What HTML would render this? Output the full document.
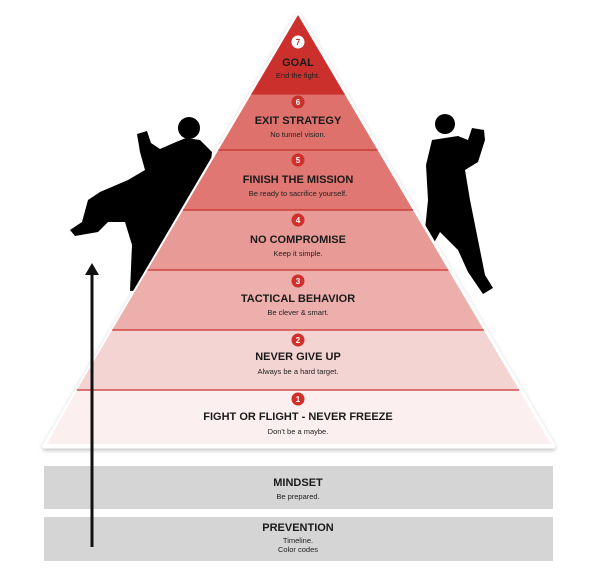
<!DOCTYPE html>
<html><head><meta charset="utf-8"><style>
html,body{margin:0;padding:0;background:#fff;}
svg{display:block;font-family:"Liberation Sans",sans-serif;}
.t{font-weight:bold;font-size:11px;fill:#1a1a1a;text-anchor:middle;}
.s{font-size:7.5px;fill:#222;text-anchor:middle;}
.n{font-weight:bold;font-size:8px;fill:#fff;text-anchor:middle;}
</style></head><body>
<svg width="600" height="569" viewBox="0 0 600 569">
<defs>
<filter id="sh" x="-10%" y="-10%" width="120%" height="120%"><feDropShadow dx="0" dy="2" stdDeviation="2" flood-color="#000" flood-opacity="0.25"/></filter>
</defs>
<g fill="#000">
<circle cx="189" cy="128" r="11"/>
<path d="M137,134 L147,131 L151,143 L160,149 L176,142 L186,138 L200,140 L212,152 L210,170 L190,200 L145,290 L130,291 L132,245 L125,222 L108,222 L98,232 L75,236 L70,230 L82,222 L88,200 L100,192 L128,180 L145,170 L140,152 Z"/>
<circle cx="445" cy="124" r="10"/>
<path d="M432,140 L458,136 L468,140 L472,128 L484,130 L485,140 L478,162 L465,170 L470,200 L478,240 L485,275 L493,288 L483,294 L468,272 L458,250 L448,240 L440,232 L430,250 L425,230 L428,200 L426,165 Z"/>
</g>
<g filter="url(#sh)">
<polygon points="298,15 553,446 45,446" fill="#fff" stroke="#fff" stroke-width="5" stroke-linejoin="round"/>
</g>
<polygon points="298,15 344.6,94 251.4,94" fill="#cc302c"/>
<polygon points="251.4,94 344.6,94 377.6,150 218.4,150" fill="#de716b"/>
<polygon points="218.4,150 377.6,150 413,210 183,210" fill="#e07772"/>
<polygon points="183,210 413,210 448.4,270 147.6,270" fill="#e89a96"/>
<polygon points="147.6,270 448.4,270 483.8,330 112.2,330" fill="#edafac"/>
<polygon points="112.2,330 483.8,330 519.2,390 76.8,390" fill="#f4d4d2"/>
<polygon points="76.8,390 519.2,390 551,444 47,444" fill="#fbf0ef"/>
<g stroke="#c9302c" stroke-width="1.2">
<line x1="251.4" y1="94" x2="344.6" y2="94"/><line x1="218.4" y1="150" x2="377.6" y2="150"/>
<line x1="183" y1="210" x2="413" y2="210"/><line x1="147.6" y1="270" x2="448.4" y2="270"/>
<line x1="112.2" y1="330" x2="483.8" y2="330"/><line x1="76.8" y1="390" x2="519.2" y2="390"/>
</g>
<g fill="#d02f2b">
<circle cx="298" cy="42" r="6.5" fill="#fff"/><circle cx="298" cy="102" r="6.5" fill="#c9302c"/>
<circle cx="298" cy="160" r="6.5"/><circle cx="298" cy="220" r="6.5"/>
<circle cx="298" cy="281" r="6.5"/><circle cx="298" cy="340" r="6.5"/><circle cx="298" cy="399" r="6.5"/>
</g>
<text class="n" x="298" y="45" style="fill:#cc302c">7</text>
<text class="n" x="298" y="105">6</text><text class="n" x="298" y="163">5</text>
<text class="n" x="298" y="223">4</text><text class="n" x="298" y="284">3</text>
<text class="n" x="298" y="343">2</text><text class="n" x="298" y="402">1</text>
<text class="t" x="298" y="66">GOAL</text><text class="s" x="298" y="78">End the fight.</text>
<text class="t" x="298" y="124">EXIT STRATEGY</text><text class="s" x="298" y="137">No tunnel vision.</text>
<text class="t" x="298" y="183">FINISH THE MISSION</text><text class="s" x="298" y="196">Be ready to sacrifice yourself.</text>
<text class="t" x="298" y="243">NO COMPROMISE</text><text class="s" x="298" y="256">Keep it simple.</text>
<text class="t" x="298" y="302">TACTICAL BEHAVIOR</text><text class="s" x="298" y="315">Be clever &amp; smart.</text>
<text class="t" x="298" y="360">NEVER GIVE UP</text><text class="s" x="298" y="374">Always be a hard target.</text>
<text class="t" x="298" y="420">FIGHT OR FLIGHT - NEVER FREEZE</text><text class="s" x="298" y="434">Don't be a maybe.</text>
<rect x="44" y="466" width="509" height="43" fill="#d5d5d5"/>
<rect x="44" y="517" width="509" height="44" fill="#d5d5d5"/>
<text class="t" x="298" y="486">MINDSET</text><text class="s" x="298" y="499">Be prepared.</text>
<text class="t" x="298" y="531">PREVENTION</text><text class="s" x="298" y="543">Timeline.</text><text class="s" x="298" y="552">Color codes</text>
<line x1="92" y1="274" x2="92" y2="547" stroke="#111" stroke-width="3"/>
<polygon points="92,263 85,275 99,275" fill="#111"/>
</svg>
</body></html>
